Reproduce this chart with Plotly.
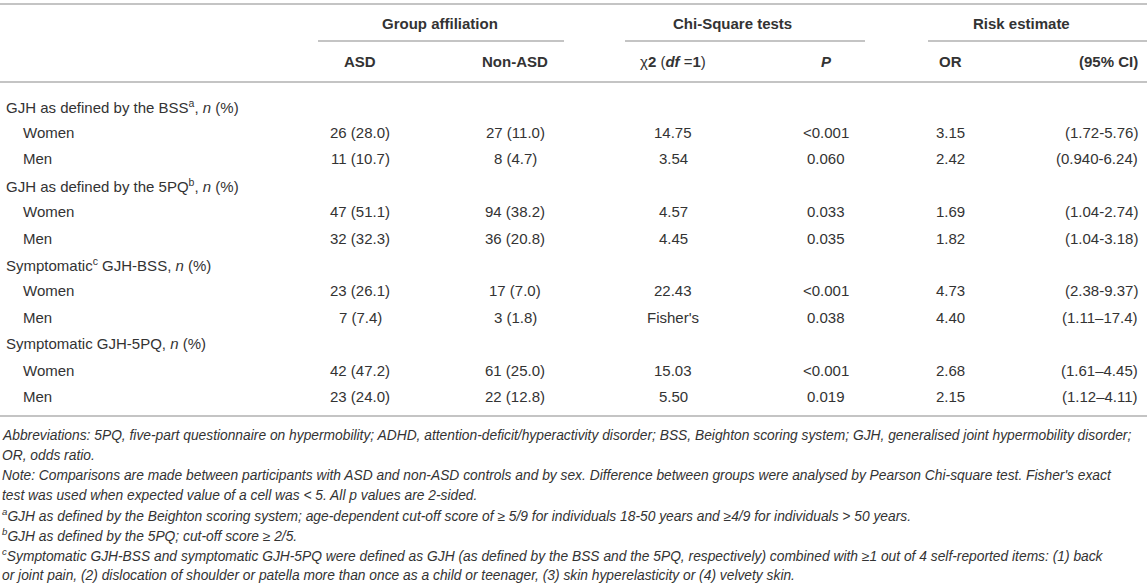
import plotly.graph_objects as go

# ---------------------------------------------------------------------------
# table content
# ---------------------------------------------------------------------------
group_headers = ["<b>Group affiliation</b>", "<b>Chi-Square tests</b>", "<b>Risk estimate</b>"]
col_headers = ["<b>ASD</b>", "<b>Non-ASD</b>", "χ<b>2</b> (<b><i>df</i></b> =<b>1</b>)",
               "<b><i>P</i></b>", "<b>OR</b>", "<b>(95% CI)</b>"]

row_labels = [
    "GJH as defined by the BSS<sup>a</sup>, <i>n</i> (%)",
    "Women",
    "Men",
    "GJH as defined by the 5PQ<sup>b</sup>, <i>n</i> (%)",
    "Women",
    "Men",
    "Symptomatic<sup>c</sup> GJH-BSS, <i>n</i> (%)",
    "Women",
    "Men",
    "Symptomatic GJH-5PQ, <i>n</i> (%)",
    "Women",
    "Men",
]
is_section = [True, False, False, True, False, False, True, False, False, True, False, False]

asd = ["", "26 (28.0)", "11 (10.7)", "", "47 (51.1)", "32 (32.3)", "", "23 (26.1)", "7 (7.4)", "", "42 (47.2)", "23 (24.0)"]
non_asd = ["", "27 (11.0)", "8 (4.7)", "", "94 (38.2)", "36 (20.8)", "", "17 (7.0)", "3 (1.8)", "", "61 (25.0)", "22 (12.8)"]
chi2 = ["", "14.75", "3.54", "", "4.57", "4.45", "", "22.43", "Fisher's", "", "15.03", "5.50"]
p_val = ["", "&lt;0.001", "0.060", "", "0.033", "0.035", "", "&lt;0.001", "0.038", "", "&lt;0.001", "0.019"]
odds = ["", "3.15", "2.42", "", "1.69", "1.82", "", "4.73", "4.40", "", "2.68", "2.15"]
ci = ["", "(1.72-5.76)", "(0.940-6.24)", "", "(1.04-2.74)", "(1.04-3.18)", "", "(2.38-9.37)", "(1.11–17.4)", "", "(1.61–4.45)", "(1.12–4.11)"]

footnotes = [
    "Abbreviations: 5PQ, five-part questionnaire on hypermobility; ADHD, attention-deficit/hyperactivity disorder; BSS, Beighton scoring system; GJH, generalised joint hypermobility disorder;",
    "OR, odds ratio.",
    "Note: Comparisons are made between participants with ASD and non-ASD controls and by sex. Difference between groups were analysed by Pearson Chi-square test. Fisher's exact",
    "test was used when expected value of a cell was &lt; 5. All p values are 2-sided.",
    "<sup>a</sup>GJH as defined by the Beighton scoring system; age-dependent cut-off score of ≥ 5/9 for individuals 18-50 years and ≥4/9 for individuals &gt; 50 years.",
    "<sup>b</sup>GJH as defined by the 5PQ; cut-off score ≥ 2/5.",
    "<sup>c</sup>Symptomatic GJH-BSS and symptomatic GJH-5PQ were defined as GJH (as defined by the BSS and the 5PQ, respectively) combined with ≥1 out of 4 self-reported items: (1) back",
    "or joint pain, (2) dislocation of shoulder or patella more than once as a child or teenager, (3) skin hyperelasticity or (4) velvety skin.",
]

# ---------------------------------------------------------------------------
# layout (pixel-like coordinates)
# ---------------------------------------------------------------------------
W, H = 1147, 587
TXT = "#333333"
RULE = "#c4c4c4"
FONT = "Liberation Sans, Arial, sans-serif"

col_x = [360, 515, 673, 826, 950, 1140]
col_anchor = ["center", "center", "center", "center", "center", "right"]
group_x = [440, 732, 1021]
group_span = [(318, 564), (625, 865), (928, 1147)]

row_y0, row_dy = 106, 26.4
foot_y0, foot_dy = 435, 20

annots = []


def add_text(x, y, text, anchor="center", size=15, italic=False):
    if italic:
        text = "<i>" + text + "</i>"
    annots.append(dict(x=x, y=y, xref="x", yref="y", text=text, showarrow=False,
                       xanchor=anchor, yanchor="middle",
                       font=dict(family=FONT, size=size, color=TXT)))


# group headers + sub headers
for gx, g in zip(group_x, group_headers):
    add_text(gx, 23, g)
for cx, ca, h in zip(col_x, col_anchor, col_headers):
    add_text(cx, 61, h, anchor=ca)

# body
columns = [asd, non_asd, chi2, p_val, odds, ci]
for i, lab in enumerate(row_labels):
    y = row_y0 + i * row_dy
    add_text(4 if is_section[i] else 21, y, lab, anchor="left")
    for cx, ca, col in zip(col_x, col_anchor, columns):
        if col[i]:
            add_text(cx, y, col[i], anchor=ca)

# footnotes
for j, f in enumerate(footnotes):
    add_text(0, foot_y0 + j * foot_dy, f, anchor="left", size=13.8, italic=True)

# rules
shapes = []
for y, x0, x1 in [(4, 0, W), (82, 0, W), (416, 0, W)]:
    shapes.append(dict(type="line", xref="x", yref="y", x0=x0, x1=x1, y0=y, y1=y,
                       line=dict(color=RULE, width=2)))
for x0, x1 in group_span:
    shapes.append(dict(type="line", xref="x", yref="y", x0=x0, x1=x1, y0=41, y1=41,
                       line=dict(color=RULE, width=2)))

fig = go.Figure()
fig.update_layout(
    width=W, height=H,
    margin=dict(l=0, r=0, t=0, b=0),
    paper_bgcolor="white", plot_bgcolor="white",
    xaxis=dict(range=[0, W], visible=False, fixedrange=True),
    yaxis=dict(range=[H, 0], visible=False, fixedrange=True),
    annotations=annots,
    shapes=shapes,
    showlegend=False,
)

# drop the browser's default 8px body margin so the table sits at 0,0
fig.write_html("out.html", config={"displayModeBar": False},
               post_script="document.body.style.margin='0';document.body.style.overflow='hidden';")
